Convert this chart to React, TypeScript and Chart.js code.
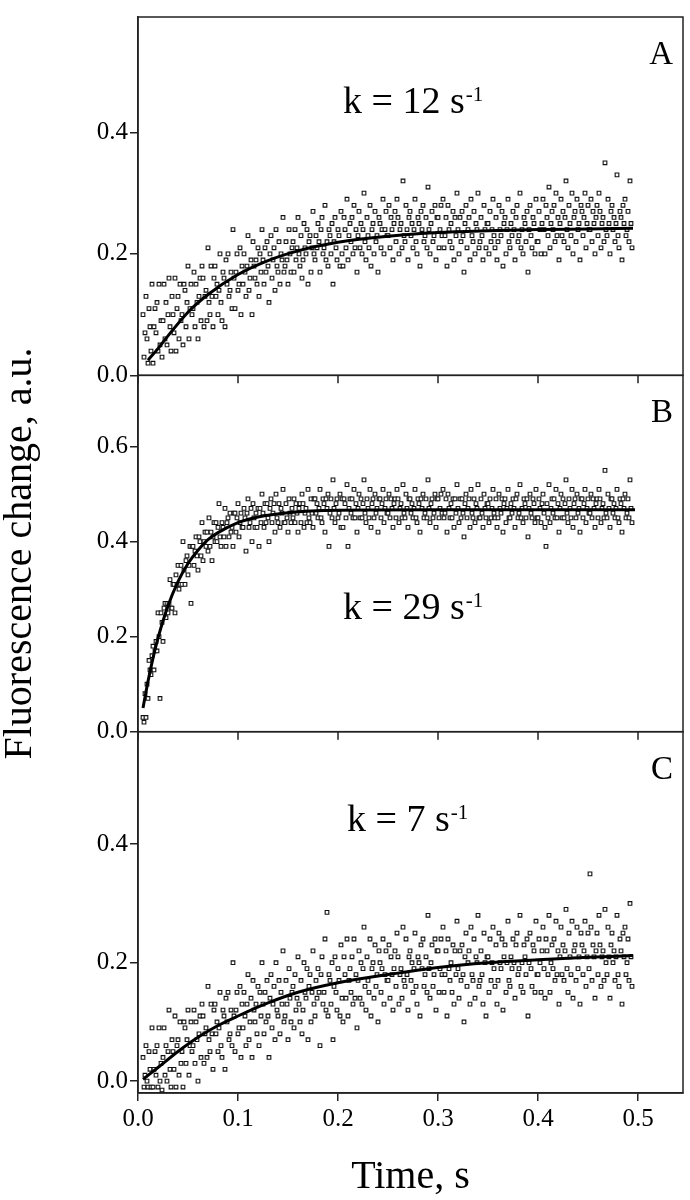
import { useEffect, useRef } from "react";
import { Chart, registerables } from "chart.js";

Chart.register(...registerables);

const FONT = "'Liberation Serif', 'Times New Roman', Times, serif";

// Sample times in milliseconds
const TIME_MS = [
  5,6,7,8,9,10,11,12,13,14,15,16,17,18,19,20,21,22,23,24,
  25,26,27,28,29,30,31,32,33,34,35,36,37,38,39,40,41,42,43,44,
  45,46,47,48,49,50,51,52,53,54,55,56,57,58,59,60,61,62,63,64,
  65,66,67,68,69,70,71,72,73,74,75,76,77,78,79,80,81,82,83,84,
  85,86,87,88,89,90,91,92,93,94,95,96,97,98,99,100,101,102,103,104,
  105,106,107,108,109,110,111,112,113,114,115,116,117,118,119,120,121,122,123,124,
  125,126,127,128,129,130,131,132,133,134,135,136,137,138,139,140,141,142,143,144,
  145,146,147,148,149,150,151,152,153,154,155,156,157,158,159,160,161,162,163,164,
  165,166,167,168,169,170,171,172,173,174,175,176,177,178,179,180,181,182,183,184,
  185,186,187,188,189,190,191,192,193,194,195,196,197,198,199,200,201,202,203,204,
  205,206,207,208,209,210,211,212,213,214,215,216,217,218,219,220,221,222,223,224,
  225,226,227,228,229,230,231,232,233,234,235,236,237,238,239,240,241,242,243,244,
  245,246,247,248,249,250,251,252,253,254,255,256,257,258,259,260,261,262,263,264,
  265,266,267,268,269,270,271,272,273,274,275,276,277,278,279,280,281,282,283,284,
  285,286,287,288,289,290,291,292,293,294,295,296,297,298,299,300,301,302,303,304,
  305,306,307,308,309,310,311,312,313,314,315,316,317,318,319,320,321,322,323,324,
  325,326,327,328,329,330,331,332,333,334,335,336,337,338,339,340,341,342,343,344,
  345,346,347,348,349,350,351,352,353,354,355,356,357,358,359,360,361,362,363,364,
  365,366,367,368,369,370,371,372,373,374,375,376,377,378,379,380,381,382,383,384,
  385,386,387,388,389,390,391,392,393,394,395,396,397,398,399,400,401,402,403,404,
  405,406,407,408,409,410,411,412,413,414,415,416,417,418,419,420,421,422,423,424,
  425,426,427,428,429,430,431,432,433,434,435,436,437,438,439,440,441,442,443,444,
  445,446,447,448,449,450,451,452,453,454,455,456,457,458,459,460,461,462,463,464,
  465,466,467,468,469,470,471,472,473,474,475,476,477,478,479,480,481,482,483,484,
  485,486,487,488,489,490,491,492,493,494,
];

// Fluorescence change in hundredths of a.u.
const PANEL_A = [
  10,3,7,13,6,2,11,8,4,15,2,8,11,7,12,4,15,5,9,3,
  9,15,6,12,5,10,16,8,4,13,10,7,16,4,11,13,6,15,9,10,
  5,15,14,8,12,18,6,11,15,10,11,17,8,15,12,6,13,16,9,18,
  16,8,13,14,9,21,12,10,18,13,8,16,18,13,15,10,14,20,12,9,
  17,16,8,19,15,20,13,14,17,11,24,16,11,17,20,14,15,21,10,18,
  15,20,17,13,18,23,14,16,19,10,22,18,16,19,15,21,13,20,17,24,
  19,15,21,17,22,18,12,20,23,16,19,21,14,24,18,17,22,15,20,19,
  26,17,18,22,19,15,24,20,17,21,22,17,24,19,21,26,20,18,23,16,
  19,25,21,20,24,15,22,23,17,21,27,20,19,23,21,25,22,17,24,26,
  20,21,28,19,22,18,24,23,20,25,15,22,26,21,19,24,23,18,27,20,
  18,26,24,21,29,19,23,25,22,26,20,28,21,24,17,23,27,21,25,20,
  24,30,22,19,26,23,21,28,18,24,25,20,27,22,23,17,26,25,21,24,
  29,20,24,27,23,23,28,21,26,24,19,25,27,22,29,26,20,24,25,21,
  32,23,22,28,24,19,26,27,23,25,21,24,29,22,20,26,25,18,27,24,
  28,22,23,26,21,31,24,20,25,27,22,23,28,19,26,26,21,24,28,23,
  29,21,23,26,18,28,24,22,25,21,27,19,26,23,30,24,20,26,22,27,
  23,17,25,28,21,24,26,19,29,23,22,27,20,25,24,30,21,22,26,23,
  19,28,24,21,25,25,20,27,22,24,29,23,21,26,19,22,28,24,23,27,
  18,25,26,20,24,29,22,21,25,23,27,24,19,26,28,22,23,30,21,24,
  20,26,25,22,27,17,24,28,23,21,26,25,20,29,22,22,27,24,20,25,
  29,24,20,28,26,23,31,21,25,27,24,28,22,30,23,26,19,25,29,23,
  27,22,26,32,24,21,28,25,23,30,20,26,27,22,29,24,25,19,28,27,
  23,26,30,21,25,28,24,24,29,22,27,25,20,26,28,23,30,27,21,25,
  26,22,35,24,23,29,25,20,27,28,24,26,22,25,33,23,21,27,26,19,
  28,25,29,23,24,27,22,32,25,21,
];

const PANEL_B = [
  3,2,8,3,10,7,15,13,12,16,18,13,17,19,17,25,20,7,25,23,
  19,26,27,24,27,25,27,32,26,26,31,31,25,33,31,35,30,31,35,31,
  40,34,31,36,37,33,35,39,27,39,39,35,38,41,37,34,41,40,37,44,
  36,40,42,39,42,38,45,39,42,36,41,44,40,44,40,43,48,41,39,44,
  43,41,47,39,44,45,41,46,42,43,39,46,46,42,45,48,41,44,46,43,
  43,47,45,38,46,49,43,44,47,40,48,45,43,46,43,47,39,47,44,50,
  46,43,48,44,48,45,40,47,49,44,46,48,42,50,45,44,48,43,47,46,
  51,44,44,48,45,42,49,46,44,47,45,49,44,48,46,42,47,48,44,50,
  48,43,46,47,44,51,45,44,49,46,43,49,49,46,48,45,47,51,45,44,
  49,48,42,49,47,50,39,46,49,45,53,47,44,48,49,45,46,50,43,49,
  43,49,48,45,52,39,47,49,46,49,45,51,45,48,42,47,50,45,49,45,
  48,53,46,44,49,47,45,51,43,48,49,45,50,46,47,42,49,49,45,48,
  51,44,47,49,46,46,50,45,49,47,43,48,49,45,51,49,44,47,48,45,
  52,46,45,50,47,43,49,49,46,48,45,47,51,45,44,49,48,42,49,47,
  50,45,46,49,45,53,47,44,48,49,45,46,50,43,49,49,45,47,50,46,
  51,45,46,49,42,50,47,45,48,45,49,43,49,46,52,47,44,49,45,49,
  46,41,48,50,45,47,49,43,51,46,45,49,44,48,47,52,45,45,49,46,
  43,50,47,45,48,48,44,49,45,47,51,46,45,49,43,45,50,47,46,49,
  42,48,49,44,47,51,45,45,48,46,49,47,43,49,50,45,46,52,45,47,
  44,49,48,45,49,41,47,50,46,45,49,48,44,51,45,45,49,47,44,48,
  50,46,43,39,48,45,52,44,47,49,46,49,45,51,45,48,42,47,50,45,
  49,45,48,53,46,44,49,47,45,51,43,48,49,45,50,46,47,42,49,49,
  45,48,51,44,47,49,46,46,50,45,49,47,43,48,49,45,51,49,44,47,
  48,45,55,46,45,50,47,43,49,49,46,48,45,47,51,45,44,49,48,42,
  49,47,50,45,46,49,45,53,47,44,
];

const PANEL_C = [
  4,-1,1,6,0,-1,5,2,-1,9,-1,2,5,1,6,-1,9,0,3,-1.5,
  4,9,1,6,0,5,12,2,-1,7,5,2,11,-1,6,7,1,10,3,5,
  -1,10,9,3,7,12,1,6,10,5,6,12,3,10,7,0,8,11,4,13,
  11,3,8,9,4,16,7,5,13,8,2,12,13,8,10,5,9,15,6,4,
  12,11,2,14,10,15,7,8,12,6,20,11,5,12,15,8,9,16,4,13,
  9,15,11,6,13,18,7,10,14,4,17,12,10,13,8,16,6,15,11,20,
  13,8,15,10,17,11,4,14,18,9,13,16,7,20,12,11,17,8,15,13,
  22,10,11,17,13,7,19,14,10,15,16,9,18,12,14,21,13,10,17,8,
  12,20,15,14,19,7,16,18,10,15,22,13,11,17,14,19,15,6,18,21,
  13,15,24,12,28.5,11,18,17,13,20,7,16,21,15,12,19,17,11,23,14,
  10,21,18,14,24,11,17,19,15,21,13,24,14,18,9,17,22,14,20,13,
  19,26,16,12,21,17,15,24,11,19,20,14,23,16,18,10,22,20,15,19,
  24,13,18,22,17,17,23,14,21,18,12,19,22,16,25,21,13,18,19,14,
  26,17,16,24,18,12,21,22,17,20,15,19,25,16,13,21,20,11,23,19,
  24,16,18,21,15,28,19,14,20,23,16,18,24,12,22,22,15,19,24,18,
  26,15,18,22,11,24,19,17,20,15,23,13,22,18,27,19,14,22,17,23,
  18,10,21,25,16,20,22,13,26,18,17,24,14,21,20,28,16,17,22,18,
  13,25,20,11,21,21,15,24,17,20,26,19,16,23,13,17,25,20,19,24,
  12,21,23,15,20,27,17,16,21,19,24,20,14,23,25,18,19,28,16,20,
  15,23,21,18,24,11,20,25,19,16,23,22,15,27,18,18,24,20,15,22,
  26,19,14,24,22,18,28,15,20,23,19,24,17,27,18,22,13,21,26,18,
  23,17,22,29,19,15,25,21,18,27,14,22,23,17,26,19,21,13,25,23,
  18,22,27,16,21,25,19,35,26,17,23,21,14,22,25,18,28,23,16,21,
  22,17,29,20,18,26,21,14,23,25,20,22,17,21,28,18,16,24,22,13,
  25,21,26,18,20,24,17,30,21,16,
];

// Fitted single-exponential curves (time in s, value in a.u.)
const FIT_A_T = [0.01, 0.02, 0.03, 0.05, 0.07, 0.1, 0.13, 0.16, 0.2, 0.25, 0.3, 0.35, 0.4, 0.45, 0.495];
const FIT_A_Y = [0.025, 0.044, 0.065, 0.104, 0.133, 0.166, 0.189, 0.205, 0.219, 0.229, 0.235, 0.238, 0.24, 0.241, 0.242];
const FIT_B_T = [0.005, 0.01, 0.015, 0.02, 0.03, 0.04, 0.05, 0.06, 0.07, 0.08, 0.1, 0.12, 0.15, 0.2, 0.3, 0.4, 0.497];
const FIT_B_Y = [0.05, 0.106, 0.155, 0.197, 0.265, 0.316, 0.354, 0.382, 0.404, 0.419, 0.44, 0.452, 0.461, 0.466, 0.467, 0.467, 0.467];
const FIT_C_T = [0.005, 0.02, 0.04, 0.06, 0.08, 0.1, 0.13, 0.16, 0.2, 0.25, 0.3, 0.35, 0.4, 0.45, 0.495];
const FIT_C_Y = [0.003, 0.023, 0.05, 0.074, 0.094, 0.11, 0.132, 0.15, 0.166, 0.18, 0.192, 0.2, 0.205, 0.209, 0.212];

const X_TICKS = [0, 0.1, 0.2, 0.3, 0.4, 0.5];
const Y_TICKS_A = [0, 0.2, 0.4];
const Y_TICKS_B = [0, 0.2, 0.4, 0.6];
const Y_TICKS_C = [0, 0.2, 0.4];

const PANEL_LETTERS = ["A", "B", "C"];
const RATE_LABELS = ["k = 12 s", "k = 29 s", "k = 7 s"];
const RATE_EXPONENT = "-1";
const X_TITLE = "Time, s";
const Y_TITLE = "Fluorescence change, a.u.";

const LINE_COLOR = "#222";

const PANELS = [
  { axis: "yA", letter: PANEL_LETTERS[0], rate: RATE_LABELS[0], rateX: 0.205, rateY: 0.432 },
  { axis: "yB", letter: PANEL_LETTERS[1], rate: RATE_LABELS[1], rateX: 0.205, rateY: 0.237 },
  { axis: "yC", letter: PANEL_LETTERS[2], rate: RATE_LABELS[2], rateX: 0.209, rateY: 0.422 },
];

const panelPlugin = {
  id: "panelFrames",
  afterDraw(chart: any) {
    const { ctx, chartArea, scales } = chart;
    const xs = scales.x;
    ctx.save();
    ctx.strokeStyle = LINE_COLOR;
    ctx.lineWidth = 1.5;
    PANELS.forEach((p, idx) => {
      const s = scales[p.axis];
      ctx.strokeRect(chartArea.left, s.top, chartArea.right - chartArea.left, s.bottom - s.top);
      if (idx < PANELS.length - 1) {
        ctx.beginPath();
        xs.ticks.forEach((t: any) => {
          const px = xs.getPixelForValue(t.value);
          ctx.moveTo(px, s.bottom);
          ctx.lineTo(px, s.bottom + 8);
        });
        ctx.stroke();
      }
      ctx.fillStyle = "#000";
      ctx.textBaseline = "alphabetic";
      ctx.font = `33px ${FONT}`;
      ctx.textAlign = "right";
      ctx.fillText(p.letter, chartArea.right - 10, s.top + 47);
      const kx = xs.getPixelForValue(p.rateX);
      const ky = s.getPixelForValue(p.rateY);
      ctx.textAlign = "left";
      ctx.font = `38px ${FONT}`;
      ctx.fillText(p.rate, kx, ky);
      const w = ctx.measureText(p.rate).width;
      ctx.font = `21px ${FONT}`;
      ctx.fillText(RATE_EXPONENT, kx + w + 1, ky - 12);
    });
    ctx.restore();
  },
};

function yAxis(min: number, max: number, ticks: number[], weight: number, extra: any = {}) {
  return {
    type: "linear",
    position: "left",
    stack: "panels",
    stackWeight: weight,
    min,
    max,
    afterBuildTicks: (s: any) => {
      s.ticks = ticks.map((v) => ({ value: v }));
    },
    afterFit: (s: any) => {
      s.width = 138;
    },
    ticks: {
      callback: (v: any) => Number(v).toFixed(1),
      font: { family: FONT, size: 25 },
      color: "#000",
      padding: 2,
      autoSkip: false,
    },
    grid: { drawOnChartArea: false, tickLength: 8, color: LINE_COLOR, lineWidth: 1.5 },
    border: { display: true, color: LINE_COLOR, width: 1.5 },
    ...extra,
  };
}

export default function App() {
  const ref = useRef<HTMLCanvasElement>(null);

  useEffect(() => {
    const canvas = ref.current;
    if (!canvas) return;

    const toPoints = (vals: number[]) => TIME_MS.map((ms, i) => ({ x: ms / 1000, y: vals[i] / 100 }));
    const toFit = (ts: number[], ys: number[]) => ts.map((t, i) => ({ x: t, y: ys[i] }));

    const scatterStyle = {
      showLine: false,
      pointStyle: "rect",
      pointRadius: 2.6,
      pointBorderWidth: 1.1,
      pointBackgroundColor: "#fff",
      pointBorderColor: "#111",
      order: 1,
    };
    const fitStyle = {
      showLine: true,
      pointRadius: 0,
      borderColor: "#000",
      borderWidth: 3,
      cubicInterpolationMode: "monotone",
      fill: false,
      order: 0,
    };

    const chart = new Chart(canvas, {
      type: "scatter",
      data: {
        datasets: [
          { ...fitStyle, label: "fit A", data: toFit(FIT_A_T, FIT_A_Y), yAxisID: "yA" },
          { ...fitStyle, label: "fit B", data: toFit(FIT_B_T, FIT_B_Y), yAxisID: "yB" },
          { ...fitStyle, label: "fit C", data: toFit(FIT_C_T, FIT_C_Y), yAxisID: "yC" },
          { ...scatterStyle, label: "A", data: toPoints(PANEL_A), yAxisID: "yA" },
          { ...scatterStyle, label: "B", data: toPoints(PANEL_B), yAxisID: "yB" },
          { ...scatterStyle, label: "C", data: toPoints(PANEL_C), yAxisID: "yC" },
        ] as any,
      },
      options: {
        responsive: false,
        animation: false,
        devicePixelRatio: 1,
        events: [],
        layout: { padding: { top: 3, right: 7, left: 0, bottom: 0 } },
        plugins: { legend: { display: false }, tooltip: { enabled: false } },
        scales: {
          x: {
            type: "linear",
            position: "bottom",
            min: 0,
            max: 0.545,
            afterBuildTicks: (s: any) => {
              s.ticks = X_TICKS.map((v) => ({ value: v }));
            },
            afterFit: (s: any) => {
              s.height = 107;
            },
            ticks: {
              callback: (v: any) => Number(v).toFixed(1),
              font: { family: FONT, size: 25 },
              color: "#000",
              padding: 3,
              maxRotation: 0,
              autoSkip: false,
            },
            grid: { drawOnChartArea: false, tickLength: 8, color: LINE_COLOR, lineWidth: 1.5 },
            border: { display: true, color: LINE_COLOR, width: 1.5 },
            title: {
              display: true,
              text: X_TITLE,
              font: { family: FONT, size: 40, lineHeight: 1 },
              color: "#000",
              padding: { top: 0, bottom: 3 },
            },
          },
          yC: yAxis(-0.02, 0.59, Y_TICKS_C, 366),
          yB: yAxis(0, 0.75, Y_TICKS_B, 361, {
            title: {
              display: true,
              text: Y_TITLE,
              font: { family: FONT, size: 40, lineHeight: 1 },
              color: "#000",
              padding: { top: 0, bottom: 0 },
            },
          }),
          yA: yAxis(0, 0.59, Y_TICKS_A, 363),
        } as any,
      },
      plugins: [panelPlugin],
    });

    return () => chart.destroy();
  }, []);

  return (
    <div style={{ position: "absolute", left: 0, top: 0, width: 690, height: 1200 }}>
      <canvas ref={ref} width={690} height={1200} style={{ display: "block" }} />
    </div>
  );
}
